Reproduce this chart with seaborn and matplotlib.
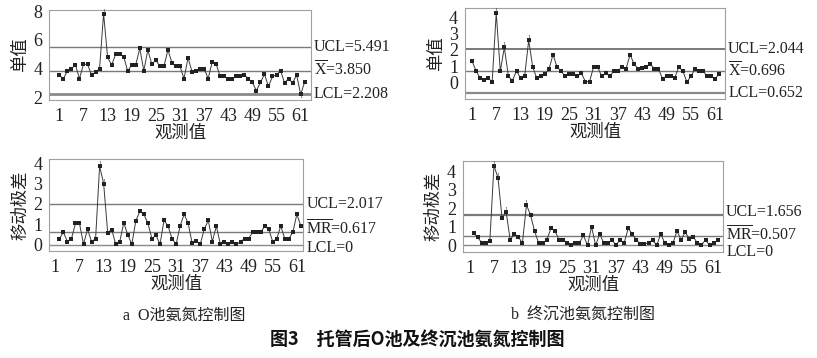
import matplotlib
matplotlib.use("Agg")
import pandas as pd
import matplotlib.pyplot as plt
import matplotlib.transforms as mtransforms
import seaborn as sns

# O池 (left) - individual values, obs 1..62
o_obs = list(range(1, 63))
o_values = [3.55, 3.27, 3.85, 4.0, 4.25, 3.3, 4.3, 4.3, 3.55, 3.73,
            4.0, 7.85, 4.78, 4.25, 5.0, 5.0, 4.83, 3.82, 4.27, 4.27,
            5.41, 3.85, 5.3, 4.3, 4.6, 4.15, 4.15, 5.3, 4.41, 4.15,
            4.15, 3.3, 4.75, 3.78, 3.82, 4.0, 4.0, 3.3, 4.45, 4.3,
            3.45, 3.45, 3.3, 3.3, 3.45, 3.45, 3.55, 3.3, 3.03, 2.45,
            3.03, 3.6, 2.75, 3.45, 3.55, 3.85, 3.0, 3.3, 3.0, 3.55,
            2.2, 3.05]
# O池 moving range, obs 2..62
o_mr_obs = list(range(2, 63))
o_mr = [0.3, 0.62, 0.16, 0.3, 1.05, 1.05, 0.03, 0.77, 0.16, 0.3,
        3.85, 3.0, 0.6, 0.75, 0.03, 0.16, 1.08, 0.49, 0.03, 1.18,
        1.64, 1.5, 1.05, 0.3, 0.48, 0.03, 1.2, 0.92, 0.3, 0.03,
        0.92, 1.5, 1.05, 0.07, 0.2, 0.03, 0.77, 1.2, 0.16, 0.92,
        0.03, 0.16, 0.03, 0.16, 0.03, 0.16, 0.3, 0.3, 0.62, 0.62,
        0.62, 0.9, 0.77, 0.16, 0.3, 0.92, 0.3, 0.3, 0.62, 1.5, 0.92]

# 终沉池 (right)
f_obs = list(range(1, 63))
f_values = [1.35, 0.74, 0.29, 0.15, 0.27, 0.06, 4.27, 0.7, 2.16, 0.39,
            0.13, 0.72, 0.27, 0.39, 2.59, 0.96, 0.27, 0.39, 0.53, 0.82,
            1.72, 0.96, 0.7, 0.39, 0.55, 0.55, 0.39, 0.57, 0.06, 0.06,
            0.96, 0.96, 0.39, 0.6, 0.39, 0.72, 0.72, 0.96, 0.84, 1.72,
            1.14, 0.84, 0.88, 0.96, 1.14, 0.84, 0.84, 0.25, 0.39, 0.39,
            0.27, 0.96, 0.72, 0.04, 0.39, 0.84, 0.72, 0.72, 0.39, 0.39,
            0.25, 0.55]
f_mr_obs = list(range(2, 63))
f_mr = [0.66, 0.43, 0.14, 0.14, 0.23, 4.29, 3.64, 1.46, 1.79, 0.3,
        0.61, 0.46, 0.12, 2.18, 1.63, 0.75, 0.12, 0.12, 0.29, 0.91,
        0.77, 0.3, 0.3, 0.14, 0.0, 0.12, 0.12, 0.54, 0.0, 1.0,
        0.0, 0.61, 0.12, 0.12, 0.3, 0.0, 0.3, 0.12, 0.91, 0.61,
        0.3, 0.07, 0.07, 0.14, 0.29, 0.0, 0.61, 0.12, 0.0, 0.12,
        0.77, 0.3, 0.7, 0.36, 0.46, 0.12, 0.0, 0.3, 0.0, 0.12, 0.27]

# control limits and their labels
o_ind_limits = [5.491, 3.850, 2.208]
o_ind_labels = ["UCL=5.491", r"$\overline{\mathrm{X}}$=3.850", "LCL=2.208"]
o_mr_limits = [2.017, 0.617, 0.0]
o_mr_labels = ["UCL=2.017", r"$\overline{\mathrm{MR}}$=0.617", "LCL=0"]
f_ind_limits = [2.044, 0.696, -0.652]
f_ind_labels = ["UCL=2.044", r"$\overline{\mathrm{X}}$=0.696", "LCL=0.652"]
f_mr_limits = [1.656, 0.507, 0.0]
f_mr_labels = ["UCL=1.656", r"$\overline{\mathrm{MR}}$=0.507", "LCL=0"]

xticks = [1, 7, 13, 19, 25, 31, 37, 43, 49, 55, 61]

sns.set_style("white")
plt.rcParams["font.family"] = ["Liberation Serif", "Noto Sans CJK SC"]
plt.rcParams["mathtext.fontset"] = "custom"
plt.rcParams["mathtext.rm"] = "Liberation Serif"
plt.rcParams["axes.unicode_minus"] = False

fig = plt.figure(figsize=(8.17, 3.58), dpi=100)


def panel(rect, x, y, limits, labels, ylabel, xlim, ylim, yticks, lw_lims, offsets):
    ax = fig.add_axes(rect)
    df = pd.DataFrame({"obs": x, "val": y})
    for v, lw, c in zip(limits, lw_lims, ["#7a7a7a", "#7a7a7a", "#8a8a8a"]):
        ax.axhline(v, color=c, lw=lw, zorder=1)
    sns.lineplot(data=df, x="obs", y="val", ax=ax, color="#3a3a3a", lw=0.7,
                 marker="s", markersize=2.8, markeredgewidth=0,
                 markerfacecolor="#222222", zorder=3)
    # test-1 flags on out-of-limit points
    for xi, yi in zip(x, y):
        if yi > limits[0]:
            ax.text(xi, yi, "1", fontsize=4.5, ha="center", va="bottom", color="#444444")
        elif yi < limits[2]:
            ax.text(xi, yi, "1", fontsize=4.5, ha="center", va="top", color="#444444")
    for v, t, off in zip(limits, labels, offsets):
        tr = ax.get_yaxis_transform() + mtransforms.ScaledTranslation(0, off / 72, fig.dpi_scale_trans)
        ax.text(1.012, v, t, transform=tr, fontsize=11.5,
                va="center", ha="left", color="#222222")
    ax.set_xlim(*xlim)
    ax.set_ylim(*ylim)
    ax.set_xticks(xticks)
    ax.set_yticks(yticks)
    ax.tick_params(axis="both", direction="out", length=3, width=0.6,
                   color="#888888", labelsize=13, labelcolor="#222222", pad=2)
    ax.tick_params(axis="x", pad=3)
    for s in ax.spines.values():
        s.set_color("#a0a0a0")
        s.set_linewidth(0.8)
    ax.set_xlabel("观测值", fontsize=12.5, color="#222222", labelpad=0)
    ax.set_ylabel(ylabel, fontsize=12.5, color="#222222", labelpad=3)
    return ax


W, H = 817, 358


def rect(x0, y0, x1, y1):
    return [x0 / W, 1 - y1 / H, (x1 - x0) / W, (y1 - y0) / H]


ax1 = panel(rect(49.3, 10, 310.7, 100), o_obs, o_values, o_ind_limits, o_ind_labels,
            "单值", (-1.5, 63.5), (1.8, 8.1), [2, 4, 6, 8], [1.0, 1.0, 2.0], [0, 0, 0])
ax2 = panel(rect(49.3, 159, 303.3, 251), o_mr_obs, o_mr, o_mr_limits, o_mr_labels,
            "移动极差", (-0.5, 62.6), (-0.3, 4.2), [0, 1, 2, 3, 4], [1.0, 1.0, 1.0],
            [0, 2, -2.5])
ax3 = panel(rect(465, 8, 725, 99), f_obs, f_values, f_ind_limits, f_ind_labels,
            "单值", (-0.7, 63.4), (-1.0, 4.57), [0, 1, 2, 3, 4], [1.4, 1.0, 1.6], [0, 0, 0])
ax4 = panel(rect(463, 161, 723, 252), f_mr_obs, f_mr, f_mr_limits, f_mr_labels,
            "移动极差", (-0.6, 63.3), (-0.36, 4.54), [0, 1, 2, 3, 4], [1.6, 1.0, 1.0],
            [1.5, 0.5, -4.5])

fig.text(184 / W, 1 - 316 / H, "a  O池氨氮控制图", ha="center", va="center",
         fontsize=11.5, color="#222222")
fig.text(583 / W, 1 - 316 / H, "b  终沉池氨氮控制图", ha="center", va="center",
         fontsize=11.5, color="#222222")
fig.text(417 / W, 1 - 340 / H, "图3　托管后O池及终沉池氨氮控制图", ha="center",
         va="center", fontsize=13, fontweight="bold", color="#111111",
         family=["Noto Sans CJK SC", "DejaVu Sans"])

fig.savefig("out.png", dpi=100)
